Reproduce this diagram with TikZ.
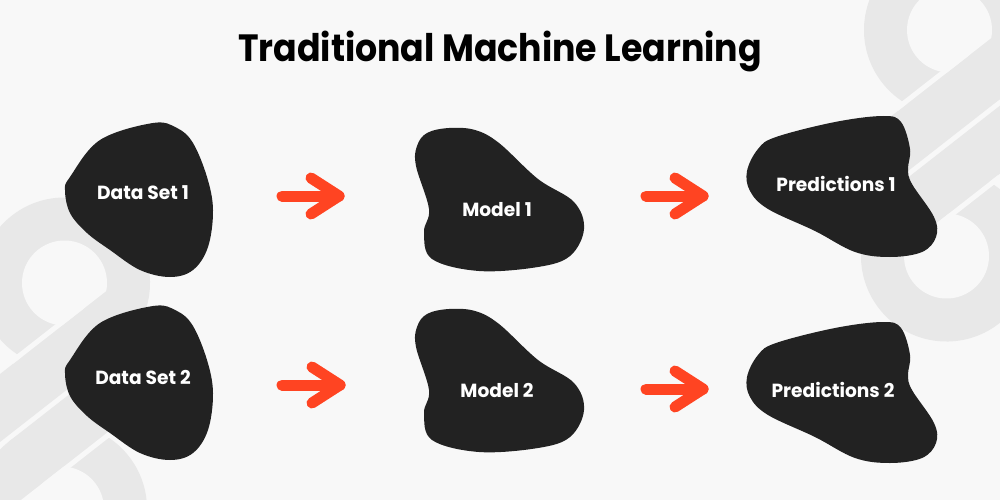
\documentclass[tikz,border=0pt]{standalone}
\usepackage{fontspec}
\setmainfont{Poppins}
\newfontfamily\titlefont{Poppins}[FakeStretch=0.915]
\newfontfamily\blobfont{Poppins}[FakeStretch=0.98]
\definecolor{bgc}{HTML}{F8F8F8}
\definecolor{logoc}{HTML}{E8E8E8}
\definecolor{blobc}{HTML}{222222}
\definecolor{arrc}{HTML}{FF4422}
\tikzset{
  lbl/.style={text=white, font=\blobfont\bfseries\fontsize{19}{21}\selectfont, inner sep=0pt},
  ttl/.style={text=black, font=\titlefont\bfseries\fontsize{38}{40}\selectfont, inner sep=0pt, anchor=base},
  blobfill/.style={fill=blobc},
  arrline/.style={draw=arrc, line width=11pt, line cap=round, line join=round},
}
% hook of the background logo, local frame: s along the stem, t across it
\newcommand\hookshape[1]{%
  \fill[logoc] (0,0) circle[radius=85.5];
  \fill[logoc] (0,32) -- (#1,32) -- (#1,85.5) -- (0,85.5) -- cycle;
  \fill[bgc] (0,27) -- (90,27) -- (90,32) -- (0,32) -- cycle;
  \begin{scope}
    \clip (-100,-100) -- (100,-100) -- (100,32) -- (-100,32) -- cycle;
    \fill[bgc] (0,0) circle[radius=42.5];
  \end{scope}}
\newcommand\dsblob[2]{\fill[blobfill, shift={(#1,#2)}] plot[smooth cycle, tension=0.6] coordinates {
  (11,-70) (-42,-53) (-72,-16) (-77,-3) (-72,20) (-55,40) (-32,57) (-2,77) (28,84)
  (51,77) (66,54) (71,17) (65,-16) (51,-50) (35,-65)};}
\newcommand\modelblob[2]{\fill[blobfill, shift={(#1,#2)}] plot[smooth cycle, tension=0.6] coordinates {
  (-70,-76) (-48,-81) (-22,-79) (2,-66) (41,-30) (77,-7) (87,20) (73,47) (41,58) (-18,62)
  (-65,50) (-73,23) (-68,0) (-81,-43) (-80,-63)};}
\newcommand\predblob[2]{\fill[blobfill, shift={(#1,#2)}] plot[smooth cycle, tension=0.6] coordinates {
  (-57,-47) (2,-62) (50,-68) (68,-62) (77,-35) (75,-15) (79,0) (101,33) (103,53)
  (89,68) (57,73) (22,68) (-18,47) (-65,25) (-83,7) (-86,-13) (-75,-35)};}
\begin{document}
\begin{tikzpicture}[x=1pt,y=-1pt]
\fill[bgc] (0,0) rectangle (1000,500);
\useasboundingbox (0,0) rectangle (1000,500);
\clip (0,0) rectangle (1000,500);
% background logo, right
\begin{scope}[shift={(949.5,30)}, x={(-0.788pt,-0.616pt)}, y={(0.616pt,-0.788pt)}]
  \hookshape{200}
\end{scope}
\begin{scope}[shift={(946.5,256)}, x={(0.788pt,0.616pt)}, y={(-0.616pt,0.788pt)}]
  \hookshape{200}
\end{scope}
% background logo, left
\begin{scope}[shift={(64.5,283)}, x={(-0.788pt,-0.616pt)}, y={(0.616pt,-0.788pt)}]
  \hookshape{200}
\end{scope}
\begin{scope}[shift={(61.5,509)}, x={(0.788pt,0.616pt)}, y={(-0.616pt,0.788pt)}]
  \hookshape{170}
\end{scope}
% title
\node[ttl] (title) at (500,62) {Traditional Machine Learning};
% blobs
\dsblob{142}{193}
\dsblob{142}{376}
\modelblob{497}{209}
\modelblob{497}{390}
\predblob{833}{184}
\predblob{833}{390}
\node[lbl] (ds1) at (143,193) {Data Set 1};
\node[lbl] (ds2) at (143,377) {Data Set 2};
\node[lbl] (m1) at (497,210) {Model 1};
\node[lbl] (m2) at (497,390) {Model 2};
\node[lbl] (p1) at (836,184) {Predictions 1};
\node[lbl] (p2) at (833,390) {Predictions 2};
% arrows
\coordinate (a1s) at (282,196); \coordinate (a1e) at (339,196);
\coordinate (a2s) at (646,196); \coordinate (a2e) at (703,196);
\coordinate (a3s) at (282,385); \coordinate (a3e) at (340,385);
\coordinate (a4s) at (646,389); \coordinate (a4e) at (703,389);
\foreach \s/\e in {a1s/a1e, a2s/a2e, a3s/a3e, a4s/a4e}{
  \draw[arrline] (\s) -- (\e);
  \draw[arrline] ([shift={(-28,-18)}]\e) -- (\e) -- ([shift={(-28,18)}]\e);
}
\end{tikzpicture}
\end{document}
